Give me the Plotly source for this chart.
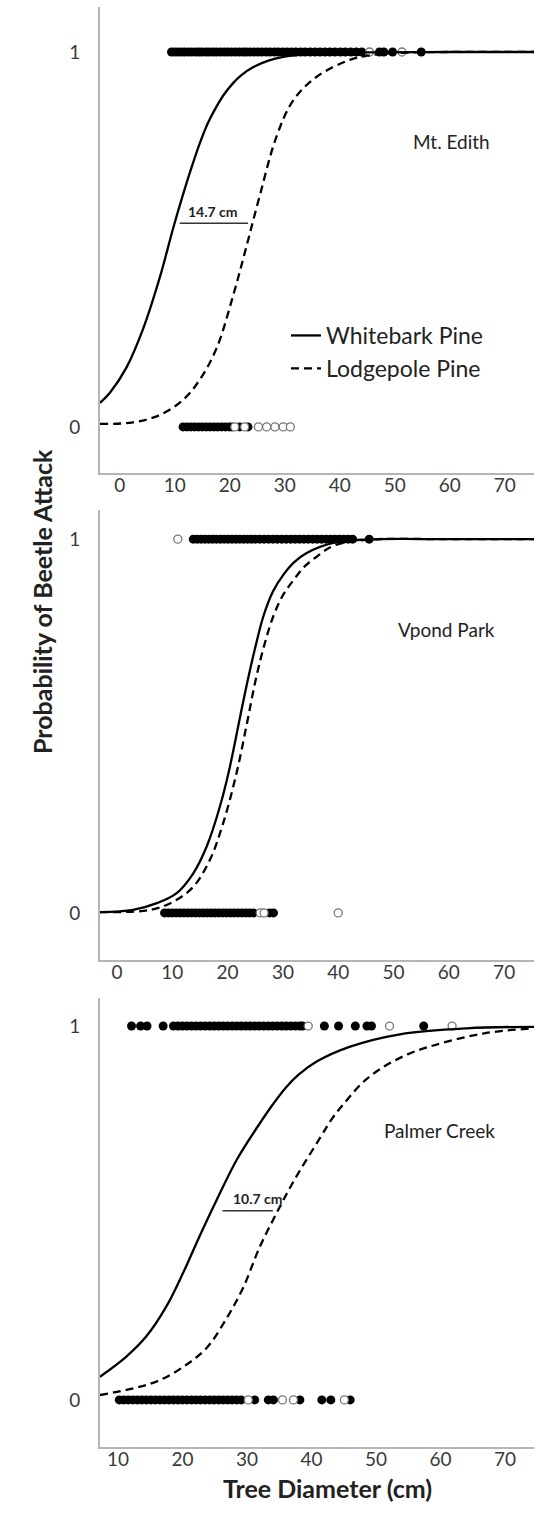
import plotly.graph_objects as go

# ---------------- Data ----------------
# Panel 1: Mt. Edith
edith_wb_x = [-3.6, -1.8, 1.2, 4.2, 7.3, 9.7, 11.5, 13, 14.5, 16, 17.6, 19, 20.6, 22, 24.2, 27, 29.7, 35, 45, 60, 75.5]
edith_wb_p = [0.064, 0.091, 0.158, 0.26, 0.40, 0.53, 0.62, 0.69, 0.755, 0.81, 0.855, 0.888, 0.917, 0.937, 0.959, 0.977, 0.987, 0.996, 0.999, 1.0, 1.0]
edith_lp_x = [-3.6, 2.4, 7.3, 11.5, 14.5, 17.6, 20.6, 23, 25.5, 28.5, 31.5, 35.8, 41.8, 44.9, 50, 60, 75.5]
edith_lp_p = [0.008, 0.012, 0.032, 0.072, 0.125, 0.21, 0.35, 0.48, 0.62, 0.775, 0.87, 0.934, 0.979, 0.99, 0.997, 1.0, 1.0]
edith_att_filled = [9.4, 10, 10.6, 11.2, 11.8, 12.5, 13.1, 13.8, 14.4, 15, 15.7, 16.3, 17, 17.6, 18.3, 19, 19.6,
                    20.3, 21, 21.7, 22.4, 23, 23.7, 24.4, 25.1, 25.8, 26.6, 27.3, 28.1, 28.8, 29.6, 30.4, 31.2,
                    32, 32.9, 33.7, 34.6, 35.5, 36.4, 37.3, 38.2, 39.1, 40.1, 41, 42, 43, 44, 47.2, 48, 49.6, 54.8]
edith_att_open = [45.4, 51.3]
edith_un_filled = [11.5, 12.2, 12.9, 13.6, 14.3, 15, 15.7, 16.4, 17.1, 17.8, 18.5, 19.2, 19.9, 20.4, 21.8, 23.3]
edith_un_open = [20.9, 22.7, 25.2, 26.7, 28.2, 29.7, 31.0]

# Panel 2: Vpond Park
vpond_wb_x = [-3.1, 2.9, 7.2, 10.8, 13.8, 16.2, 18.6, 20.4, 22.2, 23.6, 25, 26.5, 28.2, 30.1, 32, 34.3, 39.1, 45, 60, 75.5]
vpond_wb_p = [0.002, 0.008, 0.026, 0.053, 0.106, 0.177, 0.284, 0.39, 0.52, 0.62, 0.71, 0.795, 0.86, 0.905, 0.938, 0.963, 0.99, 0.999, 1.0, 1.0]
vpond_lp_x = [-3.1, 6, 10.2, 13.8, 16.8, 19.2, 21.6, 23.5, 25.1, 26.7, 28.3, 30, 31.9, 33.8, 36.1, 39.1, 45, 60, 75.5]
vpond_lp_p = [0.002, 0.008, 0.03, 0.07, 0.142, 0.24, 0.373, 0.507, 0.625, 0.72, 0.795, 0.85, 0.89, 0.925, 0.953, 0.982, 0.998, 1.0, 1.0]
vpond_att_filled = [13.8, 14.5, 15.2, 15.9, 16.6, 17.3, 18, 18.7, 19.4, 20.1, 20.8, 21.5, 22.2, 22.9, 23.6, 24.3,
                    25, 25.8, 26.6, 27.4, 28.2, 29, 29.8, 30.6, 31.4, 32.2, 33, 33.8, 34.6, 35.4, 36.2, 37,
                    37.8, 38.6, 39.4, 40.2, 41, 41.8, 42.6, 45.6]
vpond_att_open = [11.0]
vpond_un_filled = [8.6, 9.3, 10, 10.7, 11.4, 12.1, 12.8, 13.5, 14.2, 14.9, 15.6, 16.3, 17, 17.7, 18.4, 19.1,
                   19.8, 20.5, 21.2, 21.9, 22.6, 23.3, 24, 24.7, 27.6, 28.3]
vpond_un_open = [25.9, 26.6, 40.0]

# Panel 3: Palmer Creek
palmer_wb_x = [7.2, 11.3, 14.4, 17.5, 20.1, 22.7, 25.3, 28.5, 32.0, 34, 36, 38, 40.8, 46.0, 53.7, 64.1, 74.5]
palmer_wb_p = [0.062, 0.116, 0.17, 0.25, 0.34, 0.44, 0.535, 0.645, 0.74, 0.79, 0.835, 0.87, 0.905, 0.945, 0.978, 0.994, 0.998]
palmer_lp_x = [7.2, 12.4, 16.5, 20.6, 23.8, 26.9, 29.4, 32, 34.6, 37.4, 41.3, 43.3, 45.4, 48, 51.1, 55, 58.9, 66.6, 74.5]
palmer_lp_p = [0.013, 0.031, 0.053, 0.094, 0.14, 0.22, 0.30, 0.41, 0.50, 0.59, 0.70, 0.755, 0.80, 0.85, 0.89, 0.925, 0.948, 0.98, 0.994]
palmer_att_filled = [12.1, 13.5, 14.5, 17.0, 18.6, 19.3, 20, 20.7, 21.4, 22.1, 22.8, 23.5, 24.2, 24.9, 25.6, 26.3,
                     27, 27.7, 28.4, 29.1, 29.8, 30.5, 31.2, 31.9, 32.6, 33.3, 34, 34.7, 35.4, 36.1, 36.8, 37.5,
                     38.2, 38.6, 42.0, 44.2, 46.8, 48.6, 49.3, 57.4]
palmer_att_open = [39.5, 52.1, 61.8]
palmer_un_filled = [10.2, 10.9, 11.6, 12.3, 13, 13.7, 14.4, 15.1, 15.8, 16.5, 17.2, 17.9, 18.6, 19.3, 20, 20.7,
                    21.4, 22.1, 22.8, 23.5, 24.2, 24.9, 25.6, 26.3, 27, 27.7, 28.4, 29.1, 31.2, 33.3, 34.1,
                    38.2, 41.6, 43.0, 46.0]
palmer_un_open = [30.2, 35.5, 37.2, 45.1]

site_names = ["Mt. Edith", "Vpond Park", "Palmer Creek"]
site_label_pos = [(60.3, 0.76), (59.5, 0.757), (59.8, 0.72)]
gap_labels = ["14.7 cm", None, "10.7 cm"]
gap_seg_x = [[10.9, 23.3], None, [26.2, 34.0]]
gap_seg_y = [0.543, None, 0.506]
gap_label_pos = [(16.9, 0.574), None, (31.7, 0.54)]

x_ranges = [[-3.6, 75.3], [-3.07, 75.4], [7.21, 74.5]]
y_ranges = [[-0.123, 1.12], [-0.126, 1.078], [-0.126, 1.075]]
x_ticks = [[0, 10, 20, 30, 40, 50, 60, 70], [0, 10, 20, 30, 40, 50, 60, 70], [10, 20, 30, 40, 50, 60, 70]]
y_ticks = [0, 1]

panels = [
    (edith_wb_x, edith_wb_p, edith_lp_x, edith_lp_p, edith_att_filled, edith_att_open, edith_un_filled, edith_un_open),
    (vpond_wb_x, vpond_wb_p, vpond_lp_x, vpond_lp_p, vpond_att_filled, vpond_att_open, vpond_un_filled, vpond_un_open),
    (palmer_wb_x, palmer_wb_p, palmer_lp_x, palmer_lp_p, palmer_att_filled, palmer_att_open, palmer_un_filled, palmer_un_open),
]

# ---------------- Layout geometry ----------------
W, H = 534, 1521
x_dom = [100 / W, 1.0]
y_doms = [[1 - 473 / H, 1 - 7 / H], [1 - 960 / H, 1 - 510 / H], [1 - 1447 / H, 1 - 998 / H]]

FONT = "Lato, 'Open Sans', sans-serif"
TXT = "#3a3a3a"

fig = go.Figure()

for i, (wx, wp, lx, lp, af, ao, uf, uo) in enumerate(panels):
    xa = "x" if i == 0 else f"x{i+1}"
    ya = "y" if i == 0 else f"y{i+1}"
    filled_marker = dict(color="black", size=9, line=dict(width=0))
    open_marker = dict(color="white", size=8, line=dict(color="#777777", width=1.3))
    fig.add_trace(go.Scatter(x=af + uf, y=[1] * len(af) + [0] * len(uf), mode="markers",
                             marker=filled_marker, xaxis=xa, yaxis=ya, showlegend=False, cliponaxis=False))
    fig.add_trace(go.Scatter(x=ao + uo, y=[1] * len(ao) + [0] * len(uo), mode="markers",
                             marker=open_marker, xaxis=xa, yaxis=ya, showlegend=False, cliponaxis=False))
    fig.add_trace(go.Scatter(x=wx, y=wp, mode="lines", line=dict(color="black", width=2.3, shape="spline", smoothing=1.0),
                             xaxis=xa, yaxis=ya, name="Whitebark Pine", showlegend=(i == 0), legendgroup="wb"))
    fig.add_trace(go.Scatter(x=lx, y=lp, mode="lines",
                             line=dict(color="black", width=2.3, dash="8px,5px", shape="spline", smoothing=1.0),
                             xaxis=xa, yaxis=ya, name="Lodgepole Pine", showlegend=(i == 0), legendgroup="lp"))
    if gap_seg_x[i] is not None:
        fig.add_trace(go.Scatter(x=gap_seg_x[i], y=[gap_seg_y[i]] * 2, mode="lines",
                                 line=dict(color="#333333", width=1.5), xaxis=xa, yaxis=ya, showlegend=False))
        fig.add_annotation(x=gap_label_pos[i][0], y=gap_label_pos[i][1], xref=xa, yref=ya, text=f"<b>{gap_labels[i]}</b>",
                           showarrow=False, font=dict(family=FONT, size=14, color="#222"))
    fig.add_annotation(x=site_label_pos[i][0], y=site_label_pos[i][1], xref=xa, yref=ya, text=site_names[i],
                       showarrow=False, font=dict(family=FONT, size=19, color="#222"))

    axis_common = dict(showgrid=False, zeroline=False, showline=True, linecolor="#b5b5b5", linewidth=2,
                       tickfont=dict(family=FONT, size=19, color=TXT), ticks="")
    xkey = "xaxis" if i == 0 else f"xaxis{i+1}"
    ykey = "yaxis" if i == 0 else f"yaxis{i+1}"
    fig.update_layout(**{
        xkey: dict(domain=x_dom, range=x_ranges[i], tickvals=x_ticks[i], anchor=ya,
                   ticklabelstandoff=-6, **axis_common),
        ykey: dict(domain=y_doms[i], range=y_ranges[i], tickvals=y_ticks, anchor=xa,
                   ticklabelstandoff=14, **axis_common),
    })

fig.add_annotation(x=25 / W, y=1 - 602 / H, xref="paper", yref="paper", text="<b>Probability of Beetle Attack</b>",
                   textangle=-90, showarrow=False, font=dict(family=FONT, size=25, color="#222"))
fig.add_annotation(x=328 / W, y=1 - 1505 / H, xref="paper", yref="paper", text="<b>Tree Diameter (cm)</b>",
                   showarrow=False, font=dict(family=FONT, size=25, color="#222"))

fig.update_layout(
    width=W, height=H, margin=dict(l=0, r=0, t=0, b=0),
    paper_bgcolor="white", plot_bgcolor="white",
    legend=dict(x=286 / W, y=1 - 314 / H, xanchor="left", yanchor="top", bgcolor="rgba(0,0,0,0)",
                font=dict(family=FONT, size=23, color="#222"), itemwidth=30, tracegroupgap=2,
                traceorder="normal"),
)

fig.write_html("out.html")
